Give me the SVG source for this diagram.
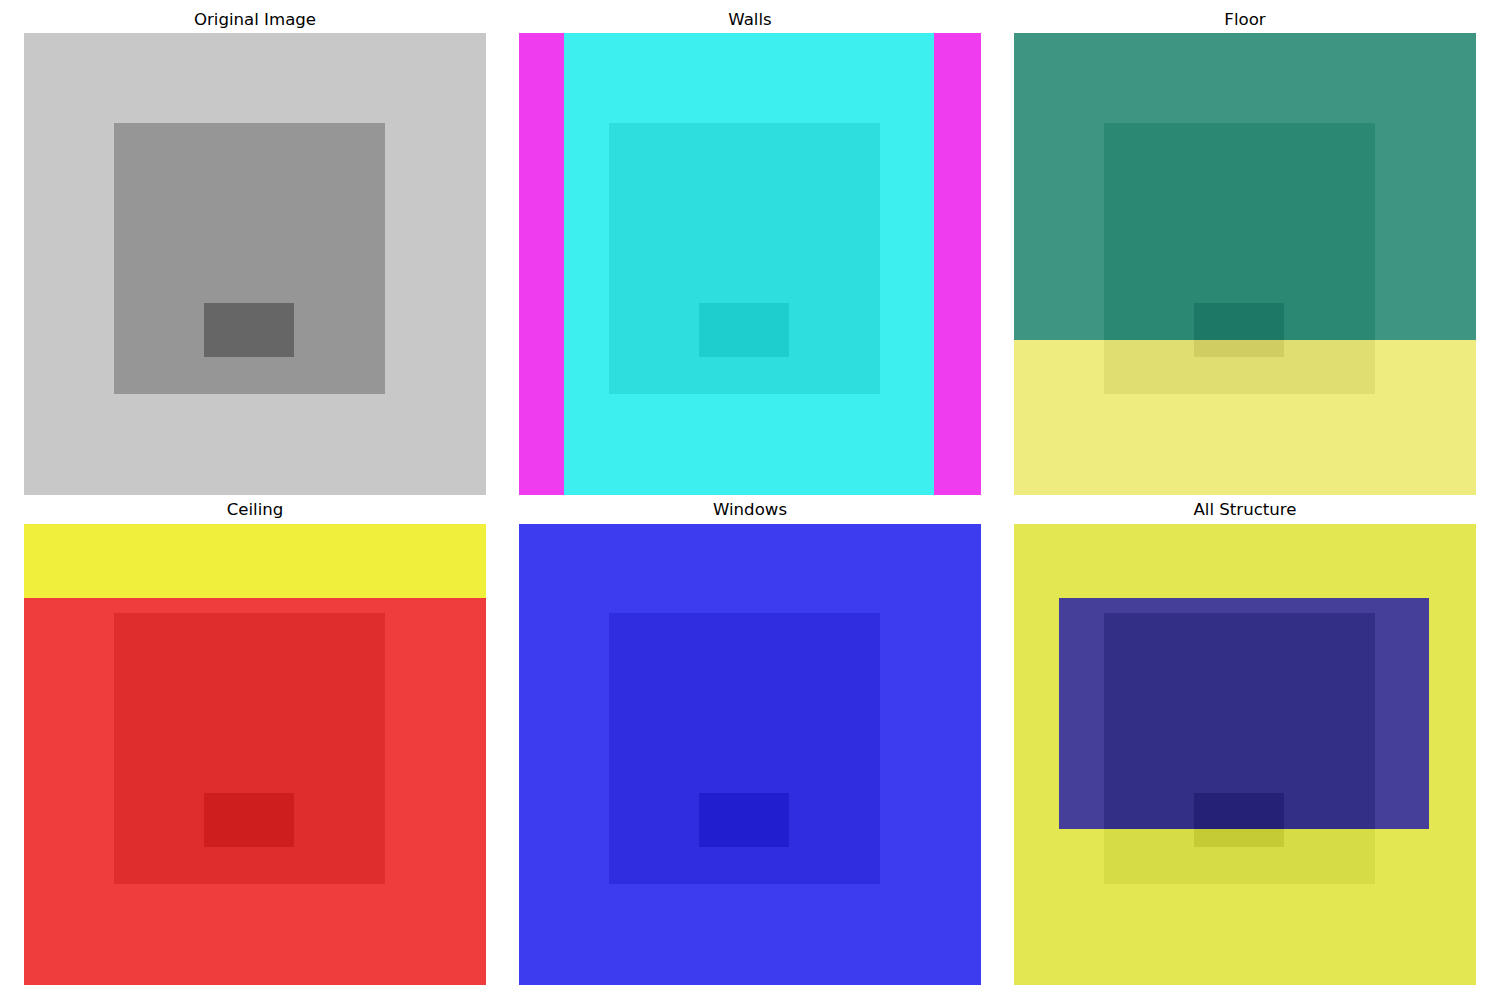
<svg xmlns="http://www.w3.org/2000/svg" width="1500" height="1000" viewBox="0 0 1500 1000">
<style>
text{font-family:"DejaVu Sans",sans-serif;font-size:16.6px;fill:#000;text-anchor:middle}
</style>
<rect x="0" y="0" width="1500" height="1000" fill="#ffffff"/>
<g id="original">
<text x="255" y="25">Original Image</text>
<rect x="24" y="33" width="462" height="462" fill="#c8c8c8"/>
<rect x="114" y="123" width="271" height="271" fill="#969696"/>
<rect x="204" y="303" width="90" height="54" fill="#666666"/>
</g>
<g id="walls">
<text x="750" y="25">Walls</text>
<rect x="519" y="33" width="462" height="462" fill="#3eefef"/>
<rect x="519" y="33" width="45" height="462" fill="#ef3cef"/>
<rect x="934" y="33" width="47" height="462" fill="#ef3cef"/>
<rect x="609" y="123" width="271" height="271" fill="#2edede"/>
<rect x="699" y="303" width="90" height="54" fill="#1ecece"/>
</g>
<g id="floor">
<text x="1245" y="25">Floor</text>
<rect x="1014" y="33" width="462" height="307" fill="#3d9582"/>
<rect x="1014" y="340" width="462" height="155" fill="#efec7f"/>
<rect x="1104" y="123" width="271" height="217" fill="#2b8873"/>
<rect x="1104" y="340" width="271" height="54" fill="#e0de71"/>
<rect x="1194" y="303" width="90" height="37" fill="#1d7866"/>
<rect x="1194" y="340" width="90" height="17" fill="#d0ce62"/>
</g>
<g id="ceiling">
<text x="255" y="515">Ceiling</text>
<rect x="24" y="524" width="462" height="75" fill="#efef3c"/>
<rect x="24" y="598" width="462" height="387" fill="#ef3c3c"/>
<rect x="114" y="613" width="271" height="271" fill="#df2d2d"/>
<rect x="204" y="793" width="90" height="54" fill="#cf1e1e"/>
</g>
<g id="windows">
<text x="750" y="515">Windows</text>
<rect x="519" y="524" width="462" height="461" fill="#3e3cef"/>
<rect x="609" y="613" width="271" height="271" fill="#2f2ddf"/>
<rect x="699" y="793" width="90" height="54" fill="#201ecf"/>
</g>
<g id="all-structure">
<text x="1245" y="515">All Structure</text>
<rect x="1014" y="524" width="462" height="461" fill="#e3e852"/>
<rect x="1104" y="613" width="271" height="271" fill="#d5dc45"/>
<rect x="1194" y="793" width="90" height="54" fill="#c5cb35"/>
<rect x="1059" y="598" width="370" height="231" fill="#453f99"/>
<rect x="1104" y="613" width="271" height="216" fill="#332f86"/>
<rect x="1194" y="793" width="90" height="36" fill="#242176"/>
</g>
<g id="connectors"/>
</svg>
